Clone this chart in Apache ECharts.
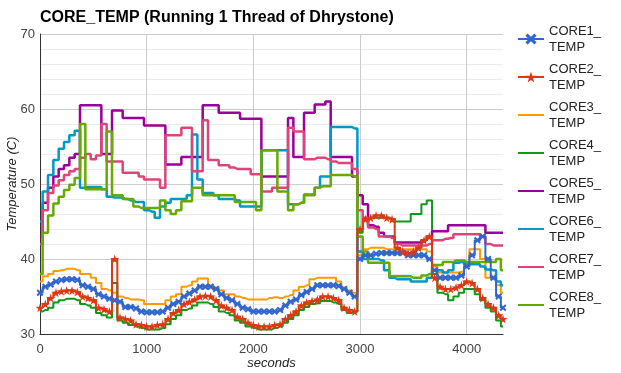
<!DOCTYPE html>
<html>
<head>
<meta charset="utf-8">
<script src="https://cdn.jsdelivr.net/npm/echarts@6/dist/echarts.min.js"></script>
<style>
html,body{margin:0;padding:0;background:#fff;}
#chart{width:621px;height:373px;}
</style>
</head>
<body>
<div id="chart"></div>
<script>
const seconds = [0,50,100,150,200,250,300,350,400,450,
  500,550,600,650,700,750,800,850,900,950,
  1000,1050,1100,1150,1200,1250,1300,1350,1400,1450,
  1500,1550,1600,1650,1700,1750,1800,1850,1900,1950,
  2000,2050,2100,2150,2200,2250,2300,2350,2400,2450,
  2500,2550,2600,2650,2700,2750,2800,2850,2900,2950,
  3000,3050,3100,3150,3200,3250,3300,3350,3400,3450,
  3500,3550,3600,3650,3700,3750,3800,3850,3900,3950,
  4000,4050,4100,4150,4200,4250,4300,4340];

const core1 = [35.5,36.3,36.6,37,37.2,37.3,37.3,37.2,36.5,36.3,
  36,35.3,35,34.7,34.5,34.3,33.6,33.6,33.4,33,
  32.9,32.9,32.9,33,33.5,34,34.3,35,35.4,35.8,
  36.3,36.3,36.3,36,35.3,34.8,34.5,34,33.5,33.3,
  33,33,33,33,33,33.2,33.8,34.3,34.6,35.2,
  35.6,36,36.5,36.5,36.5,36.5,36.4,36,35.5,35,
  40,40.5,40.5,40.7,40.8,40.8,40.8,40.8,40.8,40.5,
  40.5,40.5,40.5,40,38.5,37.5,37.5,37.5,37.5,37.8,
  39,40.5,42.5,43,40,37.5,35,33.5];

const core2 = [33.5,34,34.8,35.5,35.7,35.8,35.8,35.6,35,34.8,
  34.5,33.5,33.3,33,40,32.2,32,31.8,31.3,31.2,
  31,31,31.2,31.3,32,32.8,33.2,34,34.3,34.6,
  35,35.1,35,34.5,33.8,33.5,33.2,32.3,32,31.5,
  31.2,31,31,31,31.2,31.3,32,32.5,33,33.8,
  34.2,34.4,34.6,35,35,34.8,34.5,33.5,33.2,33,
  44,45.3,45.5,45.8,45.8,45.5,45.3,41.5,41,40.8,
  41,41.5,42.5,43,37.5,36.3,36,36,36.2,36.5,
  37,36.8,36,34.8,34,33.5,32.5,32];

const core3 = [37,37.7,38,38.4,38.5,38.7,38.7,38.5,38,38,
  37.5,36.8,36,35.8,35.5,35,34.8,34.6,34.6,34.5,
  34,34,34,34,34.5,35,35.3,36.3,36.5,37,
  37.4,37.4,36.5,36.2,35.8,35.3,35.3,35,34.8,34.6,
  34.6,34.6,34.6,34.8,34.9,34.8,35,35.2,35.8,36.3,
  36.5,37.3,37.5,37.5,37.5,37.5,37,36.2,35.8,35.5,
  40.5,41.3,41.5,41.5,41.5,41.3,41.3,41.3,41.3,41.3,
  41.3,41.3,41.3,41,39,38.2,38.2,38.2,38.2,38.3,
  39.5,41.3,41.3,40,37.5,37.3,36.5,35.5];

const core4 = [33,33.2,33.5,34.2,34.5,34.7,34.7,34.5,34,33.8,
  33.5,32.8,32.5,32.2,36.8,31.8,31.5,31.2,31,30.8,
  30.6,30.6,30.6,30.8,31.3,32,32.5,33.2,33.4,33.8,
  34.2,34.2,34,33.6,33,32.8,32.5,31.8,31.5,31,
  30.8,30.6,30.6,30.6,30.8,31,31.5,32,32.5,33.2,
  33.6,34,34.1,34.4,34.4,34.2,34,33.2,32.8,33,
  43.5,45.3,45.5,45.5,45.5,45.5,45.3,45,45,45,
  46,46,47.3,47.8,38,35.5,35.3,34.5,35,35.5,
  36,36,35.3,34.5,33.5,33,31.8,31];

const core5 = [43,47.5,49.5,51,52,52.5,53.5,54,60.5,60.5,
  60.5,60.5,54,54,59.8,59.8,58.8,58.8,58.8,58.8,
  57.8,57.8,57.8,57.8,52.6,52.6,52.6,53.6,53.6,53.6,
  53.6,60.5,60.5,60.5,59.5,59.5,59.5,59.5,58.7,58.7,
  58.7,58.7,51,51,51,51,51,58.8,53.6,53.6,
  59.5,59.5,60.6,60.6,61,53.6,53.6,53.6,53.6,51,
  48.5,47.3,44.5,44.3,43.5,43,43,42.2,42.2,42.2,
  42.2,42.2,42.5,43,43.7,43.7,43.7,44.5,44.5,44.5,
  44.5,44.5,44.5,44.5,43.5,43.5,43.5,43.5];

const core6 = [45,49,51.2,53.2,54.7,55.6,56.5,57.1,49.5,49.6,
  49.6,49.6,49.3,48.3,48.2,48.2,48,47.8,47.6,47.6,
  46.5,46.3,45.5,47,47.5,48,48,48,48.5,56.6,
  50.6,48.8,48.8,48.5,48,48,48,47.8,47,47,
  47,47,54.5,54.5,54.5,54.5,54.5,47.3,47.3,47.5,
  48.6,48.6,49.5,51,51,57.6,57.6,57.6,57.6,57.4,
  41,40,40,40,39.8,38.5,37.5,37.3,37.3,37.3,
  37,37,37,37.5,38.5,38.5,38.2,38.5,39.5,39.6,
  39.3,39.3,39.3,39,38.6,38.5,37,36.5];

const core7 = [42,46.5,48.8,49.8,50.5,51.2,51.7,52,53.5,54,
  53.3,53.8,58,53,53,53,51.5,51.5,51.5,51,
  50.6,50.6,50.6,49.5,56.5,56.5,56.5,57.5,57.5,51.7,
  51.7,58.5,53.2,53.2,52.5,52.5,52.2,52,52,52,
  51.3,51.3,49,49,49.5,49.5,49.5,57.5,57,57,
  53.3,53.3,53.5,53.5,53.3,53,52.8,52.8,52.8,52,
  46.5,45.5,44.2,44,43,43,42.8,42,41.8,41.8,
  41.8,41.8,41.8,42,42.5,42.5,42.7,42.8,43.3,43.3,
  43.3,43.3,43.3,43,42,41.8,41.8,41.8];

const core8 = [38,43.5,45.8,47.4,48.3,49.2,49.9,50.8,58,49.3,
  49.3,49.3,49.3,57,48.5,48.5,48,48,47,46.8,
  46.8,46.8,46.8,47.8,46.5,46,46.5,47.7,47.7,49.5,
  49.5,48.5,48.5,48.5,48.5,48.5,48.5,47.6,47.6,47.6,
  47.6,46.5,54.5,54.5,54.5,49,49,46.5,47.3,47.5,
  48.5,48.5,49.5,49.7,49.7,51.2,51.2,51.2,51.2,51,
  43,41,39.5,39.5,39.5,39.5,37.7,37.7,37.7,37.7,
  37.5,37.5,37.8,38,39.2,39.2,39.6,39.6,39.8,39.8,
  39.6,39.6,39.6,39.6,39.6,39.6,40,38.5];

const seriesNames = ['CORE1_TEMP','CORE2_TEMP','CORE3_TEMP','CORE4_TEMP','CORE5_TEMP','CORE6_TEMP','CORE7_TEMP','CORE8_TEMP'];
const seriesValues = [core1, core2, core3, core4, core5, core6, core7, core8];
const colors = ['#3366cc','#dc3912','#ff9900','#109618','#990099','#0099c6','#dd4477','#66aa00'];

const xMark = 'path://M2,0 L5,3 L8,0 L10,2 L7,5 L10,8 L8,10 L5,7 L2,10 L0,8 L3,5 L0,2 Z';
const starMark = 'path://M50,0 L61,35 L98,35 L68,57 L79,91 L50,70 L21,91 L32,57 L2,35 L39,35 Z';

const chart = echarts.init(document.getElementById('chart'), null, {renderer: 'canvas'});
const font = 'Arial, "Liberation Sans", sans-serif';

const series = seriesNames.map((name, i) => ({
  name: name,
  type: 'line',
  step: 'middle',
  data: seconds.map((s, j) => [s, seriesValues[i][j]]),
  symbol: i === 0 ? xMark : (i === 1 ? starMark : 'none'),
  symbolSize: i === 0 ? 7 : 9,
  showSymbol: i < 2,
  lineStyle: {width: i < 4 ? 2 : 2.5, color: colors[i]},
  itemStyle: {color: colors[i], borderWidth: 0},
  z: i < 2 ? 3 : 2,
  animation: false,
  emphasis: {disabled: true}
}));

const legendData = seriesNames.map((name, i) => (
  i < 2 ? {name: name} : {name: name, itemStyle: {opacity: 0}}
));

chart.setOption({
  animation: false,
  backgroundColor: '#ffffff',
  title: {
    text: 'CORE_TEMP (Running 1 Thread of Dhrystone)',
    left: 40, top: 10,
    padding: 0,
    textStyle: {fontSize: 16, fontWeight: 'bold', color: '#000', fontFamily: font}
  },
  legend: {
    orient: 'vertical',
    left: 517, top: 15,
    padding: 0,
    itemWidth: 26, itemHeight: 14,
    itemGap: -10,
    data: legendData,
    formatter: n => n.replace('_', '_\n'),
    textStyle: {fontSize: 13, lineHeight: 16, color: '#222', fontFamily: font, padding: [16, 0, 0, 0]}
  },
  grid: {left: 40, right: 118, top: 34, bottom: 39, containLabel: false, outerBoundsMode: 'none'},
  xAxis: {
    type: 'value', min: 0, max: 4340, interval: 1000,
    name: 'seconds', nameLocation: 'middle', nameGap: 23, nameMoveOverlap: false,
    nameTextStyle: {fontSize: 13, fontStyle: 'italic', color: '#222', fontFamily: font},
    axisLine: {show: true, lineStyle: {color: '#333', width: 1}},
    axisTick: {show: false},
    axisLabel: {fontSize: 13, color: '#444', margin: 9, fontFamily: font, showMaxLabel: false,
      formatter: v => (v === 4340 ? '' : String(v))},
    splitLine: {show: true, lineStyle: {color: ['#cccccc','#cccccc','#cccccc','#cccccc','#cccccc','rgba(0,0,0,0)'], width: 1}}
  },
  yAxis: {
    type: 'value', min: 30, max: 70, interval: 10,
    name: 'Temperature (C)', nameLocation: 'middle', nameGap: 21, nameRotate: 90, nameMoveOverlap: false,
    nameTextStyle: {fontSize: 13, fontStyle: 'italic', color: '#222', fontFamily: font},
    axisLine: {show: true, lineStyle: {color: '#333', width: 1}},
    axisTick: {show: false},
    axisLabel: {fontSize: 13, color: '#444', margin: 5, fontFamily: font, formatter: v => String(v)},
    splitLine: {show: true, lineStyle: {color: '#cccccc', width: 1}},
    minorTick: {show: false, splitNumber: 5},
    minorSplitLine: {show: true, lineStyle: {color: '#ebebeb', width: 1}}
  },
  series: series
});
</script>
</body>
</html>
